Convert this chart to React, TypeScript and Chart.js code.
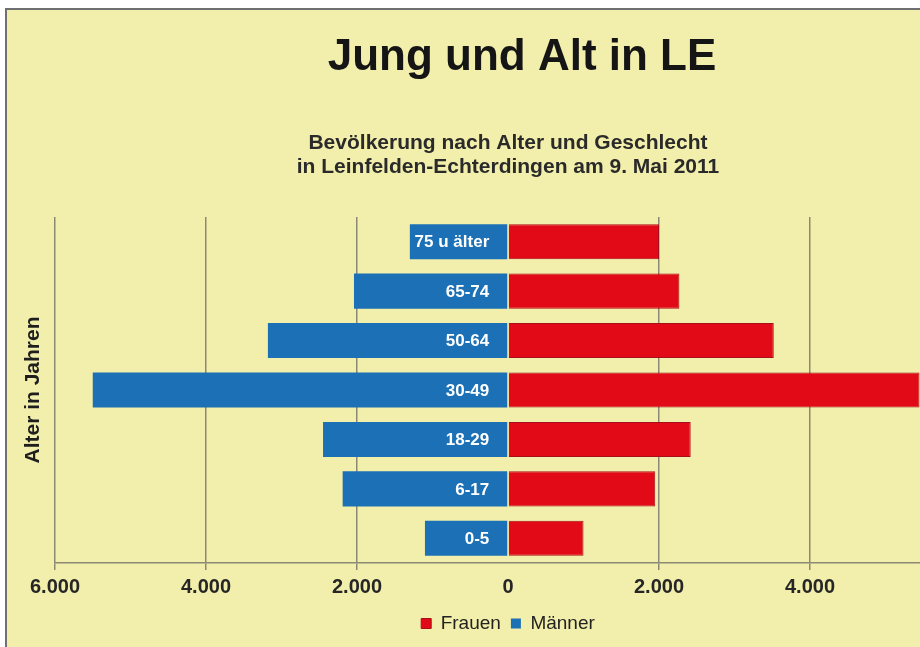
import React, { useEffect, useRef } from 'react';
import { Chart, registerables } from 'chart.js';

Chart.register(...registerables);

const FONT = '"Liberation Sans", Arial, Helvetica, sans-serif';

const categories = ['75 u älter', '65-74', '50-64', '30-49', '18-29', '6-17', '0-5'];
const frauen = [2000, 2270, 3520, 5450, 2420, 1950, 1000];
const maenner = [1300, 2040, 3180, 5500, 2450, 2190, 1100];
const xTickValues = [-6000, -4000, -2000, 0, 2000, 4000, 6000];
const titleText = 'Jung und Alt in LE';
const subtitleLines = [
  'Bevölkerung nach Alter und Geschlecht',
  'in Leinfelden-Echterdingen am 9. Mai 2011',
];
const yTitle = 'Alter in Jahren';

const fmt = (v: number) =>
  String(Math.abs(Math.round(v))).replace(/\B(?=(\d{3})+(?!\d))/g, '.');

const GRID = '#8b8974';

const barLabels = {
  id: 'barLabels',
  afterDatasetsDraw(chart: any) {
    const meta = chart.getDatasetMeta(1);
    const ctx = chart.ctx;
    meta.data.forEach((bar: any, i: number) => {
      const { x, y, base, height } = bar.getProps(['x', 'y', 'base', 'height'], true);
      const left = Math.min(x, base);
      const w = Math.abs(x - base);
      ctx.save();
      ctx.beginPath();
      ctx.rect(left, y - height / 2, w, height);
      ctx.clip();
      ctx.fillStyle = '#ffffff';
      ctx.font = `bold 17px ${FONT}`;
      ctx.textAlign = 'right';
      ctx.textBaseline = 'middle';
      ctx.fillText(categories[i], base - 18, y + 1);
      ctx.restore();
    });
  },
};

export default function App() {
  const ref = useRef<HTMLCanvasElement | null>(null);

  useEffect(() => {
    if (!ref.current) return;
    Chart.defaults.font.family = FONT;
    const chart = new Chart(ref.current, {
      type: 'bar',
      data: {
        labels: categories,
        datasets: [
          {
            label: 'Frauen',
            data: frauen,
            backgroundColor: '#e30a17',
            borderColor: '#a80f1a',
            borderWidth: 1,
            barPercentage: 0.71,
            categoryPercentage: 1,
          },
          {
            label: 'Männer',
            data: maenner.map((v) => -v),
            backgroundColor: '#1b70b6',
            borderColor: '#1b70b6',
            borderWidth: 0,
            barPercentage: 0.71,
            categoryPercentage: 1,
          },
        ],
      },
      options: {
        indexAxis: 'y',
        responsive: false,
        animation: false,
        layout: { padding: 0 },
        scales: {
          x: {
            type: 'linear',
            min: -6000,
            max: 6000,
            stacked: true,
            afterBuildTicks: (s: any) => {
              s.ticks = xTickValues.map((v) => ({ value: v }));
            },
            grid: {
              color: (c: any) => (c.tick && c.tick.value === 0 ? 'rgba(0,0,0,0)' : GRID),
              tickColor: (c: any) => (c.tick && c.tick.value === 0 ? 'rgba(0,0,0,0)' : GRID),
              lineWidth: 1.5,
              drawTicks: true,
              tickLength: 7,
            },
            border: { display: true, color: GRID, width: 1.5 },
            ticks: {
              padding: 5,
              color: '#262626',
              autoSkip: false,
              maxRotation: 0,
              font: { size: 20, weight: 'bold', family: FONT },
              callback: (v: any) => fmt(Number(v)),
            },
          },
          y: {
            type: 'category',
            stacked: true,
            grid: { display: false, drawTicks: false },
            border: { display: false },
            ticks: { display: false },
            title: {
              display: true,
              text: yTitle,
              color: '#1e1e1e',
              font: { size: 21, weight: 'bold', family: FONT },
              padding: { top: 13.4, bottom: 9.4 },
            },
          },
          yRight: {
            type: 'category',
            position: 'right',
            grid: { display: false, drawTicks: false },
            border: { display: false },
            ticks: { display: false },
            afterFit: (s: any) => {
              s.width = 76;
            },
          },
        },
        plugins: {
          title: {
            display: true,
            text: titleText,
            color: '#151515',
            fullSize: true,
            font: { size: 44, weight: 'bold', family: FONT },
            padding: { top: 21.6, bottom: 10 },
          },
          subtitle: {
            display: true,
            text: subtitleLines,
            color: '#2a2a2a',
            fullSize: false,
            font: { size: 21, weight: 'bold', family: FONT, lineHeight: 1.15 },
            padding: { top: 36.5, bottom: 37.8 },
          },
          legend: {
            position: 'bottom',
            fullSize: false,
            labels: {
              boxWidth: 10,
              boxHeight: 10,
              padding: 10,
              color: '#222222',
              font: { size: 19, family: FONT },
            },
          },
          tooltip: { enabled: false },
        },
      } as any,
      plugins: [barLabels],
    });
    return () => chart.destroy();
  }, []);

  return (
    <div
      style={{
        position: 'fixed',
        left: 0,
        top: 0,
        width: 920,
        height: 647,
        overflow: 'hidden',
        background: '#ffffff',
      }}
    >
      <div
        style={{
          position: 'absolute',
          left: 5,
          top: 8,
          width: 1100,
          height: 700,
          border: '2px solid #707070',
          background: '#f2eeab',
        }}
      >
        <canvas
          ref={ref}
          width={1030}
          height={633}
          style={{ position: 'absolute', left: 0, top: 0, display: 'block' }}
        />
      </div>
    </div>
  );
}
